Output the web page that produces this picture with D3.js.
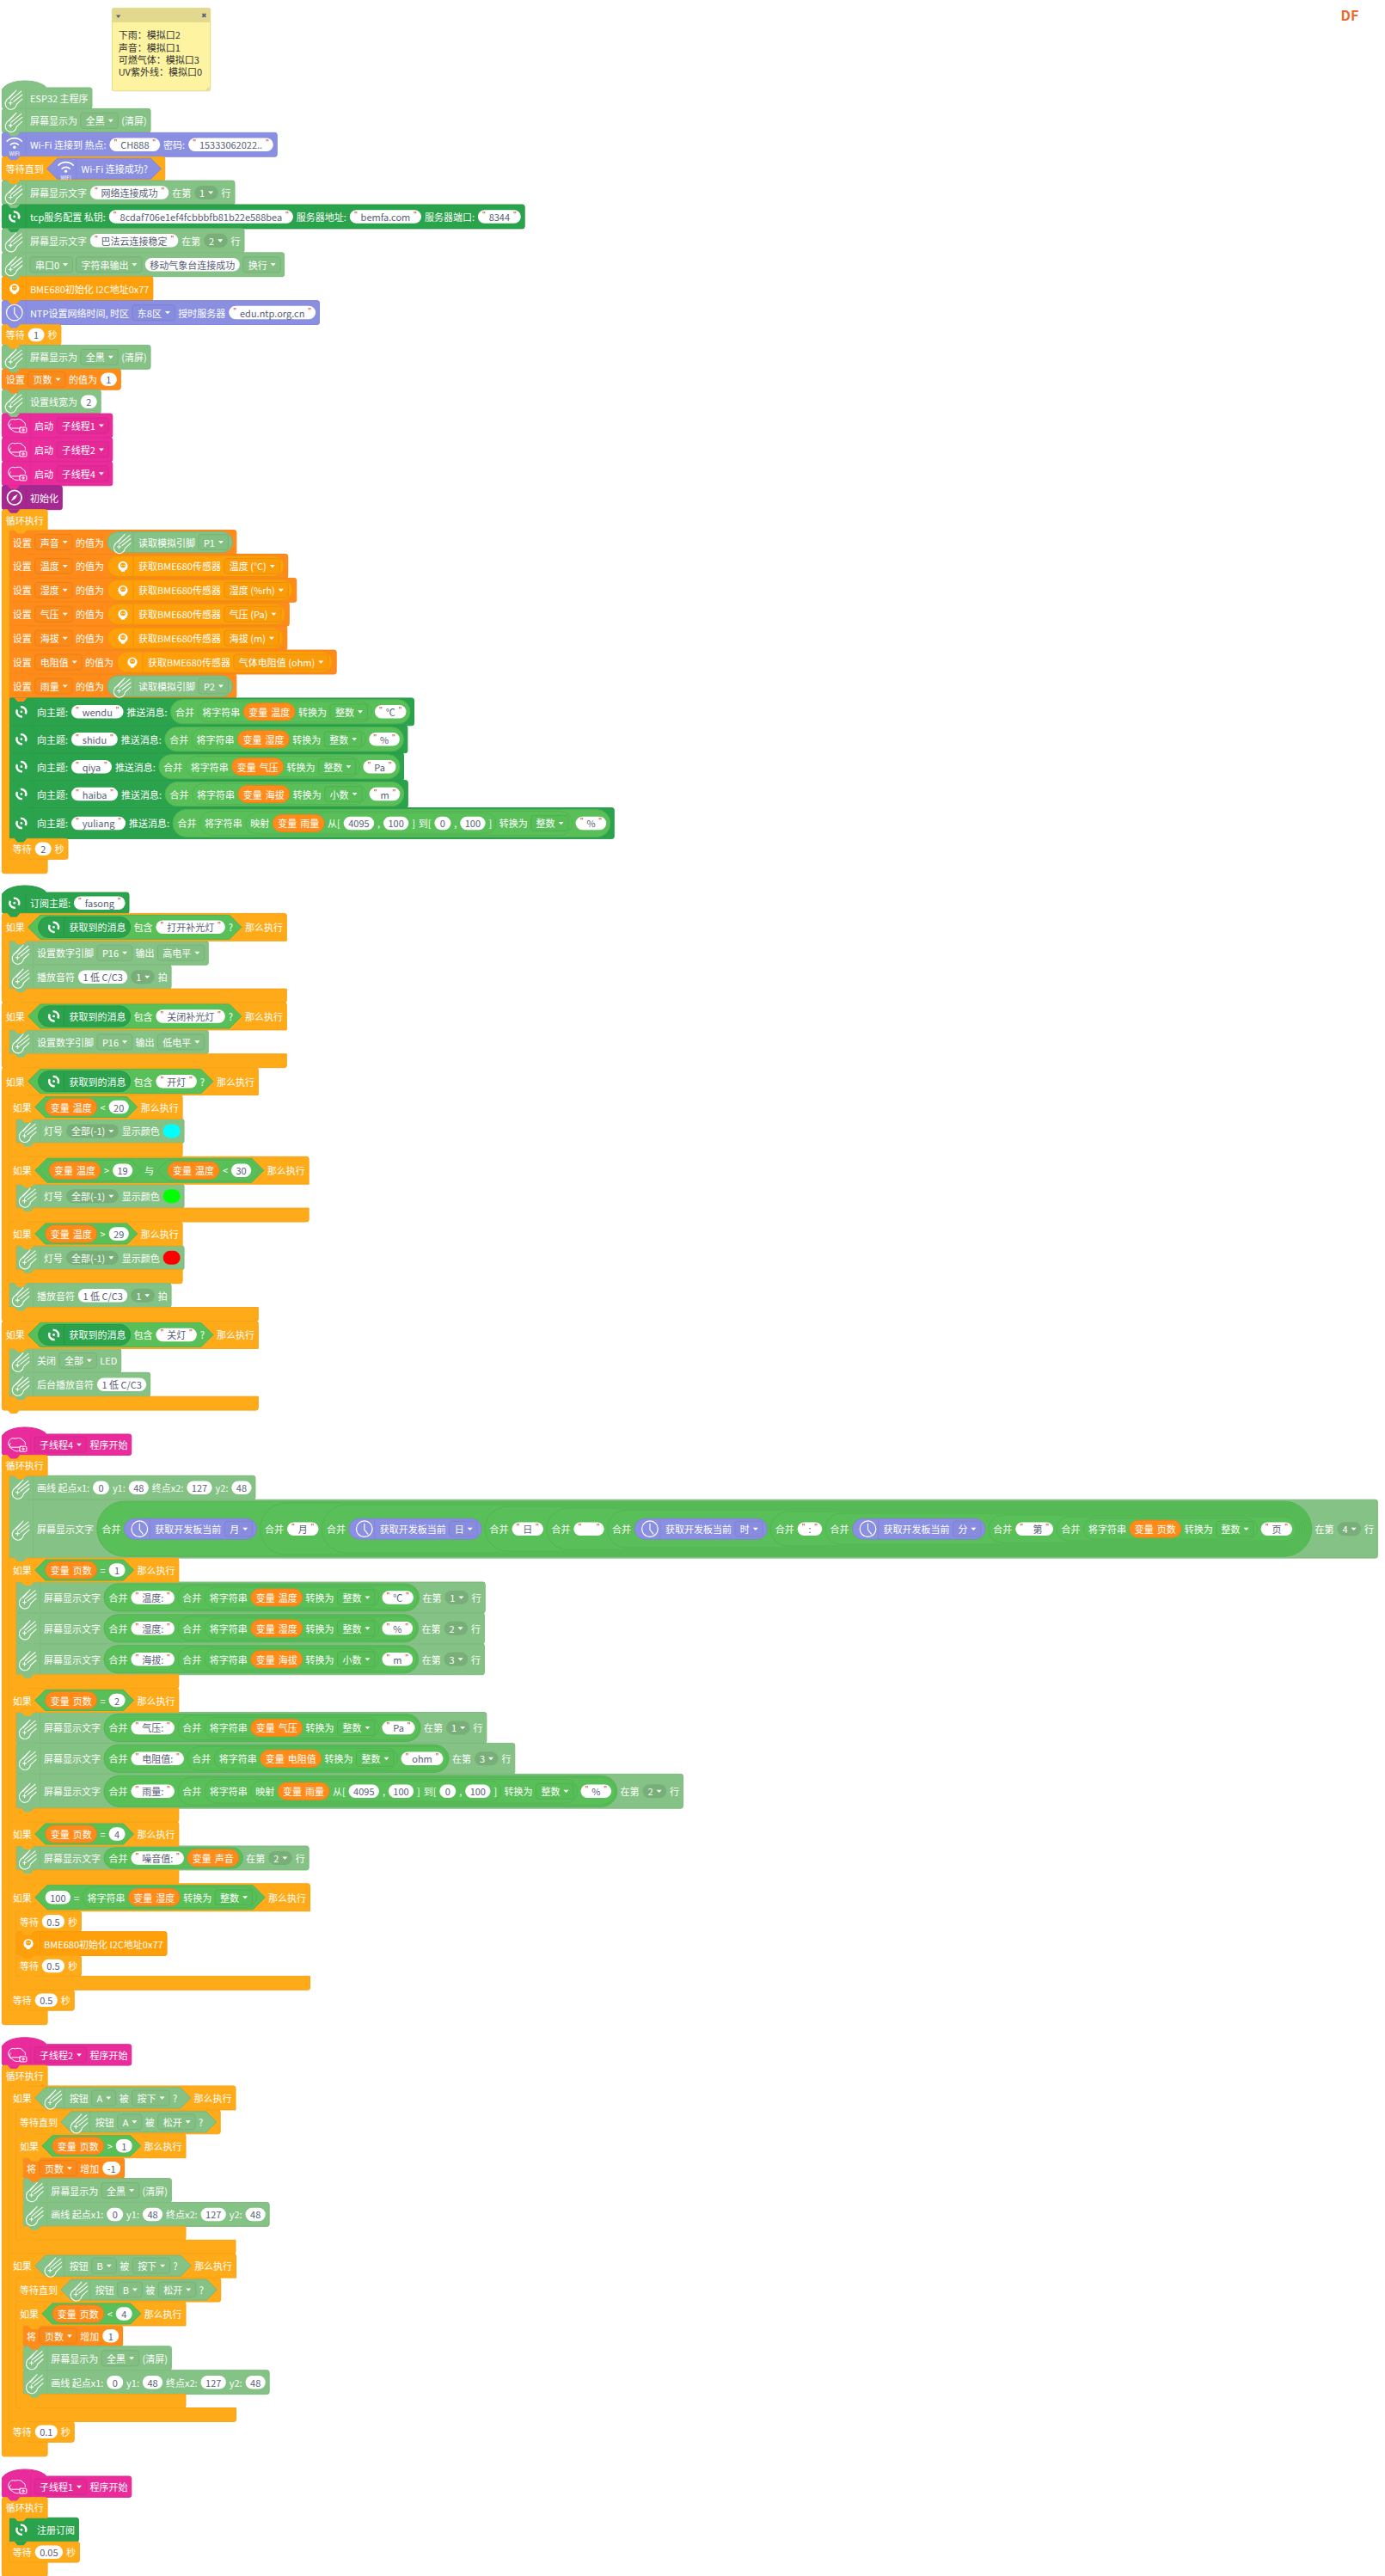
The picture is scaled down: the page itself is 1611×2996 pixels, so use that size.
<!DOCTYPE html>
<html lang="zh"><head><meta charset="utf-8">
<style>html,body{margin:0;padding:0;background:#fff}svg{display:block}text{font-family:"Noto Sans CJK SC","Noto Sans",sans-serif;font-size:11px;white-space:pre}</style>
<script src="https://cdn.jsdelivr.net/npm/d3@7/dist/d3.min.js"></script>
</head><body><svg id="c"></svg><script>
/* ---- token helpers (no geometry, only content) ---- */
const L=s=>({k:'l',s}),D=s=>({k:'dd',s}),R=s=>({k:'rd',s}),S=s=>({k:'str',s}),N=s=>({k:'num',s}),P=s=>({k:'pl',s}),
 V=s=>({k:'var',s}),SW=c=>({k:'sw',c}),I=n=>({k:'icon',n}),
 J=(...t)=>({k:'join',t}),IP=(c,n,...t)=>({k:'ipill',c,n,t}),
 H=(...t)=>({k:'hex',c:'logic',t}),HI=(c,n,...t)=>({k:'hex',c,n,t,iconLeft:true});
const st=(c,...t)=>({k:'st',c,t}),hat=(c,...t)=>({k:'st',c,t,hat:true});
const IF=(cond,...kids)=>({k:'c',c:'ctrl',t:[L('如果'),cond,L('那么执行')],kids});
const LOOP=(...kids)=>({k:'c',c:'ctrl',t:[L('循环执行')],kids,loop:true});
const T=(v,kind)=>J(L('将字符串'),v,L('转换为'),D(kind));
const BD='board',WF='net',CT='ctrl',VR='varset',SN='sensor',CL='cloud',TH='thread',IN='init';
const face=(s)=>IP(SN,'face',L('获取BME680传感器'),D(s));
const msg=(s)=>H(IP(CL,'bemfa',L('获取到的消息')),L('包含'),S(s),L('?'));
const pub=(topic,v,kind,u)=>st(CL,I('bemfa'),L('向主题:'),S(topic),L('推送消息:'),J(L('合并'),T(v,kind),S(u)));
const show=(...t)=>st(BD,I('meteor'),L('屏幕显示文字'),...t);
const clearS=()=>st(BD,I('meteor'),L('屏幕显示为'),D('全黑'),L('(清屏)'));
const line=()=>st(BD,I('meteor'),L('画线 起点x1:'),N('0'),L('y1:'),N('48'),L('终点x2:'),N('127'),L('y2:'),N('48'));
const mapRain=()=>J(L('映射'),V('雨量'),L('从['),N('4095'),L(','),N('100'),L(']'),L('到['),N('0'),L(','),N('100'),L(']'));
const wait=s=>st(CT,L('等待'),N(s),L('秒'));
const setv=(n,...t)=>st(VR,L('设置'),D(n),L('的值为'),...t);
const tone=()=>st(BD,I('meteor'),L('播放音符'),P('1 低 C/C3'),R('1'),L('拍'));
const led=c=>st(BD,I('meteor'),L('灯号'),R('全部(-1)'),L('显示颜色'),SW(c));
const btn=(b,w)=>HI(BD,'meteor',L('按钮'),D(b),L('被'),D(w),L('?'));
const bme=()=>st(SN,I('face'),L('BME680初始化 I2C地址0x77'));

/* ---- chart content ---- */
const noteLines=['下雨：模拟口2','声音：模拟口1','可燃气体：模拟口3','UV紫外线：模拟口0'];
const cornerLabel='DF';
const mainBlocks=[
 hat(BD,I('meteor'),L('ESP32 主程序')),
 clearS(),
 st(WF,I('wifi'),L('Wi-Fi 连接到 热点:'),S('CH888'),L('密码:'),S('15333062022..')),
 st(CT,L('等待直到'),HI(WF,'wifi',L('Wi-Fi 连接成功?'))),
 show(S('网络连接成功'),L('在第'),R('1'),L('行')),
 st(CL,I('bemfa'),L('tcp服务配置 私钥:'),S('8cdaf706e1ef4fcbbbfb81b22e588bea'),L('服务器地址:'),S('bemfa.com'),L('服务器端口:'),S('8344')),
 show(S('巴法云连接稳定'),L('在第'),R('2'),L('行')),
 st(BD,I('meteor'),D('串口0'),D('字符串输出'),P('移动气象台连接成功'),D('换行')),
 bme(),
 st(WF,I('clock'),L('NTP设置网络时间, 时区'),D('东8区'),L('授时服务器'),S('edu.ntp.org.cn')),
 wait('1'),
 clearS(),
 setv('页数',N('1')),
 st(BD,I('meteor'),L('设置线宽为'),N('2')),
 st(TH,I('cloud'),L('启动'),D('子线程1')),
 st(TH,I('cloud'),L('启动'),D('子线程2')),
 st(TH,I('cloud'),L('启动'),D('子线程4')),
 st(IN,I('compass'),L('初始化')),
 LOOP(
  setv('声音',IP(BD,'meteor',L('读取模拟引脚'),D('P1'))),
  setv('温度',face('温度 (°C)')),
  setv('湿度',face('湿度 (%rh)')),
  setv('气压',face('气压 (Pa)')),
  setv('海拔',face('海拔 (m)')),
  setv('电阻值',face('气体电阻值 (ohm)')),
  setv('雨量',IP(BD,'meteor',L('读取模拟引脚'),D('P2'))),
  pub('wendu',V('温度'),'整数','℃'),
  pub('shidu',V('湿度'),'整数','%'),
  pub('qiya',V('气压'),'整数','Pa'),
  pub('haiba',V('海拔'),'小数','m'),
  st(CL,I('bemfa'),L('向主题:'),S('yuliang'),L('推送消息:'),J(L('合并'),T(mapRain(),'整数'),S('%'))),
  wait('2')
 )
];
const subscribeBlocks=[
 hat(CL,I('bemfa'),L('订阅主题:'),S('fasong')),
 IF(msg('打开补光灯'),st(BD,I('meteor'),L('设置数字引脚'),D('P16'),L('输出'),D('高电平')),tone()),
 IF(msg('关闭补光灯'),st(BD,I('meteor'),L('设置数字引脚'),D('P16'),L('输出'),D('低电平'))),
 IF(msg('开灯'),
  IF(H(V('温度'),L('<'),N('20')),led('#00ffff')),
  IF(H(H(V('温度'),L('>'),N('19')),L('与'),H(V('温度'),L('<'),N('30'))),led('#00ff00')),
  IF(H(V('温度'),L('>'),N('29')),led('#ff0000')),
  tone()),
 IF(msg('关灯'),st(BD,I('meteor'),L('关闭'),D('全部'),L('LED')),st(BD,I('meteor'),L('后台播放音符'),P('1 低 C/C3')))
];
const nowPart=u=>IP(WF,'clock',L('获取开发板当前'),D(u));
const thread4Blocks=[
 hat(TH,I('cloud'),D('子线程4'),L('程序开始')),
 LOOP(
  line(),
  show(J(L('合并'),nowPart('月'),J(L('合并'),S('月'),J(L('合并'),nowPart('日'),J(L('合并'),S('日'),J(L('合并'),S('    '),J(L('合并'),nowPart('时'),J(L('合并'),S(':'),J(L('合并'),nowPart('分'),J(L('合并'),S('   第'),J(L('合并'),T(V('页数'),'整数'),S('页')))))))))))
   ,L('在第'),R('4'),L('行')),
  IF(H(V('页数'),L('='),N('1')),
   show(J(L('合并'),S('温度:'),J(L('合并'),T(V('温度'),'整数'),S('℃'))),L('在第'),R('1'),L('行')),
   show(J(L('合并'),S('湿度:'),J(L('合并'),T(V('湿度'),'整数'),S('%'))),L('在第'),R('2'),L('行')),
   show(J(L('合并'),S('海拔:'),J(L('合并'),T(V('海拔'),'小数'),S('m'))),L('在第'),R('3'),L('行'))),
  IF(H(V('页数'),L('='),N('2')),
   show(J(L('合并'),S('气压:'),J(L('合并'),T(V('气压'),'整数'),S('Pa'))),L('在第'),R('1'),L('行')),
   show(J(L('合并'),S('电阻值:'),J(L('合并'),T(V('电阻值'),'整数'),S('ohm'))),L('在第'),R('3'),L('行')),
   show(J(L('合并'),S('雨量:'),J(L('合并'),T(mapRain(),'整数'),S('%'))),L('在第'),R('2'),L('行'))),
  IF(H(V('页数'),L('='),N('4')),
   show(J(L('合并'),S('噪音值:'),V('声音')),L('在第'),R('2'),L('行'))),
  IF(H(N('100'),L('='),T(V('湿度'),'整数')),wait('0.5'),bme(),wait('0.5')),
  wait('0.5')
 )
];
const pageStep=(b,w,op,lim,inc)=>IF(btn(b,'按下'),
  st(CT,L('等待直到'),btn(b,'松开')),
  IF(H(V('页数'),L(op),N(lim)),
   st(VR,L('将'),D('页数'),L('增加'),N(inc)),clearS(),line()));
const thread2Blocks=[
 hat(TH,I('cloud'),D('子线程2'),L('程序开始')),
 LOOP(pageStep('A','按下','>','1','-1'),pageStep('B','按下','<','4','1'),wait('0.1'))
];
const thread1Blocks=[
 hat(TH,I('cloud'),D('子线程1'),L('程序开始')),
 LOOP(st(CL,I('bemfa'),L('注册订阅')),wait('0.05'))
];
const stacks=[mainBlocks,subscribeBlocks,thread4Blocks,thread2Blocks,thread1Blocks];

/* ---- style and layout ---- */
const W=1611,HT=2996;
const palette={board:'#85c285',net:'#8a8fe2',ctrl:'#ffab19',varset:'#ff8c1a',sensor:'#ff9f0a',cloud:'#2ba24c',logic:'#59c059',thread:'#e92b9b',init:'#a4288f'};
const stackTops=[102,1038,1668,2377.7,2880];
const stackLeft=2.4,gap=3.9,indent=8.1,barH=15.9,rowTrim=.1;
const ctx=document.createElement('canvas').getContext('2d');ctx.font='11px "Noto Sans CJK SC"';
const tw=s=>ctx.measureText(s).width;
const rowW=t=>d3.sum(t,x=>x.w)+gap*Math.max(0,t.length-1);
function size(t){
 if(t.t)t.t.forEach(size);
 const mh=t.t?d3.max(t.t,x=>x.h):0;
 switch(t.k){
  case'l':t.w=tw(t.s);t.h=14;break;
  case'dd':t.w=tw(t.s)+21.5;t.h=18;break;
  case'rd':t.w=tw(t.s)+21.5;t.h=16;break;
  case'str':t.w=tw(t.s)+25.5;t.h=15.5;break;
  case'num':t.w=Math.max(19,tw(t.s)+11);t.h=15.5;break;
  case'pl':t.w=tw(t.s)+11;t.h=15.5;break;
  case'sw':t.w=20;t.h=16;break;
  case'var':t.w=tw('变量')+4+tw(t.s)+12;t.h=20;break;
  case'icon':t.w=0;t.h=20;break;
  case'join':t.h=Math.max(20,mh+4);t.w=rowW(t.t)+5.5+(t.t[t.t.length-1].k==='join'?2:4.6);break;
  case'ipill':t.h=Math.max(24,mh+4);t.w=rowW(t.t)+36+5;break;
  case'hex':{t.h=Math.max(24,mh+4);
   t.pl=t.iconLeft?40:(t.t[0].k==='hex'?4.4:12);
   t.pr=t.iconLeft?15.5:(t.t[t.t.length-1].k==='hex'?4.7:10);
   t.w=rowW(t.t)+t.pl+t.pr;break;}
 }
}
const color=k=>palette[k]||k;
const dk=(c,a=.3)=>d3.color(c).darker(a).formatHex();

const svg=d3.select('#c').attr('width',W).attr('height',HT).attr('viewBox',[0,0,W,HT]);
svg.append('rect').attr('width',W).attr('height',HT).attr('fill','#fff');
const bodyLayer=svg.append('g'),tabLayer=svg.append('g'),contentLayer=svg.append('g');

const bodies=[],tabs=[],rows=[];
function rrect(p,x,y,w,h,r=2.5){p.moveTo(x+r,y);p.lineTo(x+w-r,y);p.arcTo(x+w,y,x+w,y+r,r);p.lineTo(x+w,y+h-r);p.arcTo(x+w,y+h,x+w-r,y+h,r);p.lineTo(x+r,y+h);p.arcTo(x,y+h,x,y+h-r,r);p.lineTo(x,y+r);p.arcTo(x,y,x+r,y,r);p.closePath();}
function headRow(b){
 b.t.forEach(size);
 const icon=b.t[0].k==='icon'?b.t[0]:null;
 const rest=icon?b.t.slice(1):b.t;
 const lead=icon?(icon.n==='cloud'?37.5:32.5):4.3;
 const w=lead+rowW(rest)+4.4;
 let h=Math.max(icon?28:24,d3.max(rest,x=>x.h)+4)-rowTrim;
 return{icon,rest,lead,w,h};
}
function layout(list,x,y){
 list.forEach((b,i)=>{
  const r=headRow(b);
  if(b.k==='st'){
   let h=b.hat?24.4:r.h;
   const p=d3.path();
   if(b.hat){p.moveTo(x,y+2);p.bezierCurveTo(x+8,y-11,x+42,y-11,x+52,y);p.lineTo(x+r.w-2.5,y);p.arcTo(x+r.w,y,x+r.w,y+2.5,2.5);p.lineTo(x+r.w,y+h-2.5);p.arcTo(x+r.w,y+h,x+r.w-2.5,y+h,2.5);p.lineTo(x+2.5,y+h);p.arcTo(x,y+h,x,y+h-2.5,2.5);p.closePath();}
   else rrect(p,x,y,r.w,h);
   bodies.push({d:p.toString(),c:color(b.c)});
   tabs.push({x,y:y+h,c:color(b.c)});
   rows.push({x,y,h,r,c:color(b.c)});
   y+=h;
  }else{
   const hH=b.loop?24-rowTrim:r.h;
   const top=y;
   const ky=layout(b.kids,x+indent,y+hH);
   const bH=b.loop?(barH+.6):barH;
   const p=d3.path(),e=2.5,w=r.w;
   p.moveTo(x+e,top);p.lineTo(x+w-e,top);p.arcTo(x+w,top,x+w,top+e,e);p.lineTo(x+w,top+hH);
   p.lineTo(x+indent,top+hH);p.lineTo(x+indent,ky);p.lineTo(x+w,ky);p.lineTo(x+w,ky+bH-e);p.arcTo(x+w,ky+bH,x+w-e,ky+bH,e);
   p.lineTo(x+e,ky+bH);p.arcTo(x,ky+bH,x,ky+bH-e,e);p.lineTo(x,top+e);p.arcTo(x,top,x+e,top,e);p.closePath();
   bodies.push({d:p.toString(),c:color(b.c)});
   tabs.push({x:x+indent,y:top+hH,c:color(b.c)});
   if(!b.loop)tabs.push({x,y:ky+bH,c:color(b.c)});
   rows.push({x,y:top,h:hH,r,c:color(b.c)});
   y=ky+bH;
  }
 });
 return y;
}
stacks.forEach((s,i)=>layout(s,stackLeft,stackTops[i]));

bodyLayer.selectAll('path').data(bodies).join('path').attr('d',d=>d.d).attr('fill',d=>d.c).attr('stroke',d=>dk(d.c,.12)).attr('stroke-width',1);
tabLayer.selectAll('path').data(tabs).join('path')
 .attr('d',d=>{const p=d3.path();p.moveTo(d.x+6,d.y-.5);p.lineTo(d.x+10,d.y+4);p.lineTo(d.x+17,d.y+4);p.lineTo(d.x+21,d.y-.5);p.closePath();return p.toString();})
 .attr('fill',d=>d.c);

function txt(g,s,x,y,fill='#fff',anchor='start',fs=null){const e=g.append('text').attr('x',x).attr('y',y).attr('dominant-baseline','central').attr('fill',fill).attr('text-anchor',anchor).text(s);if(fs)e.style('font-size',fs+'px');return e;}
function arrow(g,x,y,fill='#fff'){g.append('path').attr('d',`M${x-3},${y-1.5}L${x+3},${y-1.5}L${x},${y+1.8}Z`).attr('fill',fill);}
function icon(g,n,cx,cy,c){
 const a=g.append('g').attr('transform',`translate(${cx},${cy})`).attr('fill','none').attr('stroke','#fff').attr('stroke-width',1.1).attr('stroke-linecap','round');
 if(n==='meteor'){
  a.append('path').attr('d','M-9,2 A6.6,6.6 0 1 0 2.5,7');
  a.append('path').attr('d','M-9,2 L-1,-6 M-6,0 L2,-9 M-4,2 L8,-8 M-1,4 L9,-4 M2.5,7 L9,1');
  a.append('path').attr('d','M-6.5,5.5 h4 M-4.5,3.5 v4');
 }else if(n==='bemfa'){
  a.attr('stroke-width',2.4).attr('stroke-linecap','butt');
  a.append('path').attr('d','M-1,-5.5 A5.5,5.5 0 0 1 4.8,2.5');
  a.append('path').attr('d','M1,5.5 A5.5,5.5 0 0 1 -4.8,-2.5');
  a.append('circle').attr('r',1.4).attr('fill','#fff').attr('stroke','none');
 }else if(n==='wifi'){
  a.attr('stroke-width',1.7);
  a.append('path').attr('d','M-8.5,-4 A12,12 0 0 1 8.5,-4');
  a.append('path').attr('d','M-4.5,0 A6.5,6.5 0 0 1 4.5,0');
  a.append('circle').attr('cy',3).attr('r',1.7).attr('fill','#fff').attr('stroke','none');
  txt(a.append('g').attr('stroke','none'),'WIFI',0,10,'#fff','middle',6);
 }else if(n==='clock'){
  a.attr('stroke-width',1.2);
  a.append('circle').attr('r',9.3);
  a.append('path').attr('d','M0,-6 L0,1 L4,6');
 }else if(n==='face'){
  a.append('circle').attr('r',5.6).attr('fill','#fff').attr('stroke','none');
  a.append('circle').attr('cy',-1).attr('r',3).attr('fill',c).attr('stroke','none');
  a.append('circle').attr('cx',-1.2).attr('cy',-1).attr('r',.7).attr('fill','#fff').attr('stroke','none');
  a.append('circle').attr('cx',1.2).attr('cy',-1).attr('r',.7).attr('fill','#fff').attr('stroke','none');
  a.append('rect').attr('x',-2).attr('y',4).attr('width',4).attr('height',2.5).attr('fill','#fff').attr('stroke','none');
 }else if(n==='compass'){
  a.attr('stroke-width',1.8);
  a.append('circle').attr('r',8.3);
  a.append('path').attr('d','M4,-4 L1,1.2 L-4,4 L-1,-1.2Z').attr('fill','#fff').attr('stroke','none');
 }else if(n==='cloud'){
  a.attr('stroke-width',1);
  a.append('path').attr('d','M4,3 H-6 A4.5,4.5 0 0 1 -9,-4 A5,5 0 0 1 -2,-7 C1,-8 6,-8 7,-5 A4,4 0 0 1 10,0');
  a.append('path').attr('d','M-7,-2 A4,4 0 0 0 -5,5 C-3,8 2,8 4,7');
  a.append('rect').attr('x',3.5).attr('y',2).attr('width',8).attr('height',6).attr('rx',1);
  a.append('circle').attr('cx',7.5).attr('cy',5).attr('r',1.2);
 }
}
function drawRow(g,tokens,x,cy,bg){
 let px=x;
 tokens.forEach(t=>{drawToken(g,t,px,cy,bg);px+=t.w+gap;});
}
function drawToken(g,t,x,cy,bg){
 switch(t.k){
  case'l':txt(g,t.s,x,cy);break;
  case'dd':g.append('rect').attr('x',x).attr('y',cy-t.h/2).attr('width',t.w).attr('height',t.h).attr('rx',3).attr('fill',dk(bg,.05)).attr('stroke',dk(bg,.35)).attr('stroke-opacity',.7);
   txt(g,t.s,x+6,cy);arrow(g,x+t.w-8.5,cy);break;
  case'rd':g.append('rect').attr('x',x).attr('y',cy-t.h/2).attr('width',t.w).attr('height',t.h).attr('rx',t.h/2).attr('fill',dk(bg,.3));
   txt(g,t.s,x+6,cy);arrow(g,x+t.w-8.5,cy);break;
  case'str':case'num':case'pl':
   g.append('rect').attr('x',x).attr('y',cy-t.h/2).attr('width',t.w).attr('height',t.h).attr('rx',t.h/2).attr('fill','#fff');
   if(t.k==='str'){txt(g,t.s,x+12.8,cy,'#575e75');txt(g,'"',x+7,cy-1.5,'#c0392b','middle',9);txt(g,'"',x+t.w-7,cy-1.5,'#c0392b','middle',9);}
   else txt(g,t.s,x+t.w/2,cy,'#575e75','middle');
   break;
  case'sw':g.append('rect').attr('x',x).attr('y',cy-t.h/2).attr('width',t.w).attr('height',t.h).attr('rx',t.h/2).attr('fill',t.c);break;
  case'var':g.append('rect').attr('x',x).attr('y',cy-t.h/2).attr('width',t.w).attr('height',t.h).attr('rx',t.h/2).attr('fill',palette.varset).attr('stroke',dk(palette.varset,.2));
   txt(g,'变量',x+6,cy);txt(g,t.s,x+6+tw('变量')+4,cy);break;
  case'join':g.append('rect').attr('x',x).attr('y',cy-t.h/2).attr('width',t.w).attr('height',t.h).attr('rx',t.h/2).attr('fill',palette.logic).attr('stroke',dk(palette.logic,.2));
   drawRow(g,t.t,x+5.5,cy,palette.logic);break;
  case'ipill':{const c=color(t.c);g.append('rect').attr('x',x).attr('y',cy-t.h/2).attr('width',t.w).attr('height',t.h).attr('rx',t.h/2).attr('fill',c).attr('stroke',dk(c,.2));
   icon(g,t.n,x+18,cy,c);g.append('line').attr('x1',x+30).attr('x2',x+30).attr('y1',cy-t.h/2).attr('y2',cy+t.h/2).attr('stroke',dk(c,.2));
   drawRow(g,t.t,x+36,cy,c);break;}
  case'hex':{const c=color(t.c),a=t.h/2;
   g.append('path').attr('d',`M${x},${cy}L${x+a},${cy-a}H${x+t.w-a}L${x+t.w},${cy}L${x+t.w-a},${cy+a}H${x+a}Z`).attr('fill',c).attr('stroke',dk(c,.2));
   if(t.iconLeft){icon(g,t.n,x+22,cy,c);g.append('line').attr('x1',x+34).attr('x2',x+34).attr('y1',cy-a).attr('y2',cy+a).attr('stroke',dk(c,.15));}
   drawRow(g,t.t,x+t.pl,cy,c);break;}
 }
}
rows.forEach(row=>{
 const g=contentLayer.append('g'),cy=row.y+row.h/2,r=row.r;
 if(r.icon){
  const ix=r.icon.n==='cloud'?row.x+17:row.x+14.4;
  icon(g,r.icon.n,ix,cy,row.c);
  const sx=r.icon.n==='cloud'?row.x+33:row.x+28;
  g.append('line').attr('x1',sx).attr('x2',sx).attr('y1',row.y+1).attr('y2',row.y+row.h-1).attr('stroke',dk(row.c,.12));
 }
 drawRow(g,r.rest,row.x+r.lead,cy,row.c);
});

/* sticky note */
const note=svg.append('g').attr('transform','translate(130.4,9.4)');
note.append('rect').attr('width',114.3).attr('height',96.3).attr('rx',2).attr('fill','#fdf3a0').attr('stroke','#e4da85');
note.append('path').attr('d','M0,16.6V2a2,2 0 0 1 2,-2H112.3a2,2 0 0 1 2,2V16.6Z').attr('fill','#e3d98e');
note.append('path').attr('d','M4.5,8L10,8L7.2,11.5Z').attr('fill','#555e78');
note.append('path').attr('d','M105,6.5L109,10.5M109,6.5L105,10.5').attr('stroke','#555e78').attr('stroke-width',1.6);
note.append('path').attr('d','M113,92L109.5,95.5M113,94L111.5,95.5').attr('stroke','#aaa').attr('stroke-width',.7);
note.selectAll('text.n').data(noteLines).join('text').attr('class','n').attr('x',7.3).attr('y',(d,i)=>31+i*14.2).attr('dominant-baseline','central').attr('fill','#333').text(d=>d);
txt(svg,cornerLabel,1570,17,'#ea6a2b','middle',16).style('font-weight','700');
</script></body></html>
